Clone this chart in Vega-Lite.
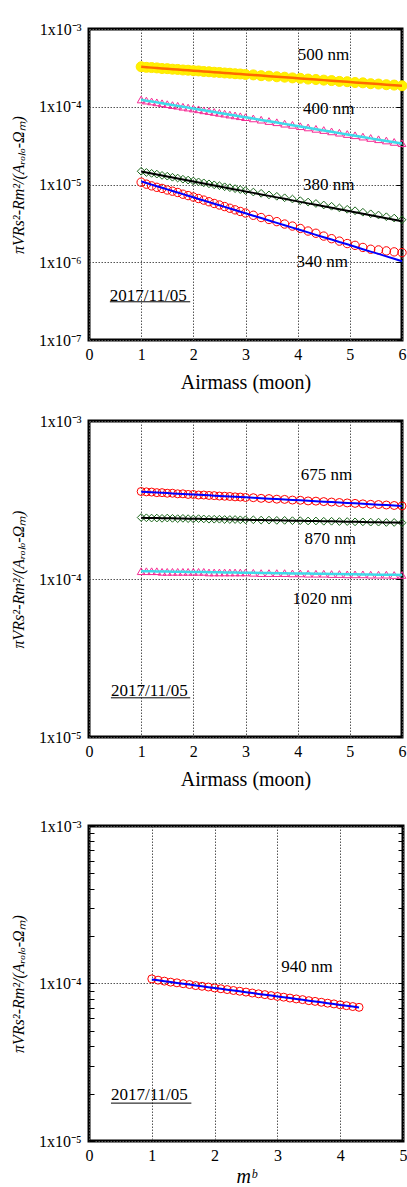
{
 "$schema":"https://vega.github.io/schema/vega-lite/v6.json",
 "padding":{"left":8,"top":19,"right":0,"bottom":0},
 "spacing":17,
 "config":{
   "view":{"stroke":"black","strokeWidth":3},
   "font":"Liberation Serif",
   "axis":{"labelFont":"Liberation Serif","titleFont":"Liberation Serif","labelColor":"black","titleColor":"black","titleFontWeight":"normal","labelFontSize":16,"titleFontSize":20,"domain":false,"grid":true,"gridColor":"#555","gridDash":[1.5,1.5],"gridWidth":1,"ticks":false},
   "text":{"font":"Liberation Serif"}
 },
 "datasets":{
  "ann":[
   {"p":1,"t":"500 nm","x":4.0,"y":4.6e-4},
   {"p":1,"t":"400 nm","x":4.1,"y":9.4e-5},
   {"p":1,"t":"380 nm","x":4.1,"y":1.0e-5},
   {"p":1,"t":"340 nm","x":3.98,"y":1.0e-6},
   {"p":1,"t":"2017/11/05","x":0.4,"y":3.66e-7},
   {"p":2,"t":"675 nm","x":4.06,"y":4.55e-4},
   {"p":2,"t":"870 nm","x":4.13,"y":1.8e-4},
   {"p":2,"t":"1020 nm","x":3.9,"y":7.46e-5},
   {"p":2,"t":"2017/11/05","x":0.42,"y":1.95e-5},
   {"p":3,"t":"940 nm","x":3.06,"y":1.28e-4},
   {"p":3,"t":"2017/11/05","x":0.35,"y":1.95e-5}
  ],
  "ul":[
   {"p":1,"x":0.4,"x2":1.94,"y":3.1e-7},
   {"p":2,"x":0.42,"x2":1.94,"y":1.77e-5},
   {"p":3,"x":0.35,"x2":1.63,"y":1.74e-5}
  ],
  "d":[
{"p":1,"s":"500","x":1,"o":3.27e-4,"f":3.26e-4},
{"p":1,"s":"500","x":1.1,"o":3.21e-4,"f":3.222e-4},
{"p":1,"s":"500","x":1.2,"o":3.19e-4,"f":3.186e-4},
{"p":1,"s":"500","x":1.3,"o":3.16e-4,"f":3.15e-4},
{"p":1,"s":"500","x":1.4,"o":3.10e-4,"f":3.115e-4},
{"p":1,"s":"500","x":1.5,"o":3.09e-4,"f":3.08e-4},
{"p":1,"s":"500","x":1.6,"o":3.04e-4,"f":3.046e-4},
{"p":1,"s":"500","x":1.7,"o":3.02e-4,"f":3.012e-4},
{"p":1,"s":"500","x":1.8,"o":2.97e-4,"f":2.978e-4},
{"p":1,"s":"500","x":1.9,"o":2.95e-4,"f":2.945e-4},
{"p":1,"s":"500","x":2,"o":2.91e-4,"f":2.912e-4},
{"p":1,"s":"500","x":2.1,"o":2.89e-4,"f":2.88e-4},
{"p":1,"s":"500","x":2.2,"o":2.84e-4,"f":2.848e-4},
{"p":1,"s":"500","x":2.3,"o":2.82e-4,"f":2.816e-4},
{"p":1,"s":"500","x":2.4,"o":2.78e-4,"f":2.785e-4},
{"p":1,"s":"500","x":2.5,"o":2.76e-4,"f":2.754e-4},
{"p":1,"s":"500","x":2.6,"o":2.72e-4,"f":2.723e-4},
{"p":1,"s":"500","x":2.7,"o":2.70e-4,"f":2.692e-4},
{"p":1,"s":"500","x":2.8,"o":2.66e-4,"f":2.662e-4},
{"p":1,"s":"500","x":2.9,"o":2.64e-4,"f":2.633e-4},
{"p":1,"s":"500","x":3,"o":2.60e-4,"f":2.603e-4},
{"p":1,"s":"500","x":3.15,"o":2.57e-4,"f":2.56e-4},
{"p":1,"s":"500","x":3.3,"o":2.51e-4,"f":2.517e-4},
{"p":1,"s":"500","x":3.45,"o":2.48e-4,"f":2.475e-4},
{"p":1,"s":"500","x":3.6,"o":2.43e-4,"f":2.434e-4},
{"p":1,"s":"500","x":3.75,"o":2.40e-4,"f":2.393e-4},
{"p":1,"s":"500","x":3.9,"o":2.35e-4,"f":2.354e-4},
{"p":1,"s":"500","x":4.05,"o":2.32e-4,"f":2.314e-4},
{"p":1,"s":"500","x":4.2,"o":2.27e-4,"f":2.276e-4},
{"p":1,"s":"500","x":4.35,"o":2.24e-4,"f":2.238e-4},
{"p":1,"s":"500","x":4.5,"o":2.20e-4,"f":2.2e-4},
{"p":1,"s":"500","x":4.65,"o":2.17e-4,"f":2.163e-4},
{"p":1,"s":"500","x":4.8,"o":2.12e-4,"f":2.127e-4},
{"p":1,"s":"500","x":4.95,"o":2.10e-4,"f":2.092e-4},
{"p":1,"s":"500","x":5.1,"o":2.05e-4,"f":2.057e-4},
{"p":1,"s":"500","x":5.25,"o":2.03e-4,"f":2.023e-4},
{"p":1,"s":"500","x":5.4,"o":1.98e-4,"f":1.989e-4},
{"p":1,"s":"500","x":5.55,"o":1.96e-4,"f":1.956e-4},
{"p":1,"s":"500","x":5.7,"o":1.92e-4,"f":1.923e-4},
{"p":1,"s":"500","x":5.85,"o":1.90e-4,"f":1.891e-4},
{"p":1,"s":"500","x":6,"o":1.86e-4,"f":1.86e-4},
{"p":1,"s":"400","x":1,"o":12.4e-5,"f":12.30e-5},
{"p":1,"s":"400","x":1.1,"o":12.0e-5,"f":11.98e-5},
{"p":1,"s":"400","x":1.2,"o":11.7e-5,"f":11.68e-5},
{"p":1,"s":"400","x":1.3,"o":11.4e-5,"f":11.38e-5},
{"p":1,"s":"400","x":1.4,"o":11.1e-5,"f":11.09e-5},
{"p":1,"s":"400","x":1.5,"o":10.8e-5,"f":10.80e-5},
{"p":1,"s":"400","x":1.6,"o":10.5e-5,"f":10.53e-5},
{"p":1,"s":"400","x":1.7,"o":10.3e-5,"f":10.26e-5},
{"p":1,"s":"400","x":1.8,"o":10.0e-5,"f":9.99e-5},
{"p":1,"s":"400","x":1.9,"o":9.76e-5,"f":9.74e-5},
{"p":1,"s":"400","x":2,"o":9.5e-5,"f":9.49e-5},
{"p":1,"s":"400","x":2.1,"o":9.27e-5,"f":9.24e-5},
{"p":1,"s":"400","x":2.2,"o":9.0e-5,"f":9.01e-5},
{"p":1,"s":"400","x":2.3,"o":8.8e-5,"f":8.78e-5},
{"p":1,"s":"400","x":2.4,"o":8.57e-5,"f":8.55e-5},
{"p":1,"s":"400","x":2.5,"o":8.35e-5,"f":8.33e-5},
{"p":1,"s":"400","x":2.6,"o":8.15e-5,"f":8.12e-5},
{"p":1,"s":"400","x":2.7,"o":7.93e-5,"f":7.91e-5},
{"p":1,"s":"400","x":2.8,"o":7.74e-5,"f":7.71e-5},
{"p":1,"s":"400","x":2.9,"o":7.55e-5,"f":7.51e-5},
{"p":1,"s":"400","x":3,"o":7.35e-5,"f":7.32e-5},
{"p":1,"s":"400","x":3.15,"o":7.08e-5,"f":7.04e-5},
{"p":1,"s":"400","x":3.3,"o":6.82e-5,"f":6.77e-5},
{"p":1,"s":"400","x":3.45,"o":6.55e-5,"f":6.51e-5},
{"p":1,"s":"400","x":3.6,"o":6.32e-5,"f":6.26e-5},
{"p":1,"s":"400","x":3.75,"o":6.06e-5,"f":6.02e-5},
{"p":1,"s":"400","x":3.9,"o":5.85e-5,"f":5.79e-5},
{"p":1,"s":"400","x":4.05,"o":5.62e-5,"f":5.57e-5},
{"p":1,"s":"400","x":4.2,"o":5.42e-5,"f":5.36e-5},
{"p":1,"s":"400","x":4.35,"o":5.2e-5,"f":5.15e-5},
{"p":1,"s":"400","x":4.5,"o":5.02e-5,"f":4.96e-5},
{"p":1,"s":"400","x":4.65,"o":4.82e-5,"f":4.77e-5},
{"p":1,"s":"400","x":4.8,"o":4.64e-5,"f":4.58e-5},
{"p":1,"s":"400","x":4.95,"o":4.46e-5,"f":4.41e-5},
{"p":1,"s":"400","x":5.1,"o":4.3e-5,"f":4.24e-5},
{"p":1,"s":"400","x":5.25,"o":4.13e-5,"f":4.08e-5},
{"p":1,"s":"400","x":5.4,"o":3.97e-5,"f":3.92e-5},
{"p":1,"s":"400","x":5.55,"o":3.82e-5,"f":3.77e-5},
{"p":1,"s":"400","x":5.7,"o":3.68e-5,"f":3.63e-5},
{"p":1,"s":"400","x":5.85,"o":3.53e-5,"f":3.49e-5},
{"p":1,"s":"400","x":6,"o":3.40e-5,"f":3.36e-5},
{"p":1,"s":"380","x":1,"o":14.8e-6,"f":14.70e-6},
{"p":1,"s":"380","x":1.1,"o":14.3e-6,"f":14.27e-6},
{"p":1,"s":"380","x":1.2,"o":13.9e-6,"f":13.86e-6},
{"p":1,"s":"380","x":1.3,"o":13.6e-6,"f":13.46e-6},
{"p":1,"s":"380","x":1.4,"o":13.1e-6,"f":13.07e-6},
{"p":1,"s":"380","x":1.5,"o":12.8e-6,"f":12.69e-6},
{"p":1,"s":"380","x":1.6,"o":12.4e-6,"f":12.32e-6},
{"p":1,"s":"380","x":1.7,"o":12.1e-6,"f":11.96e-6},
{"p":1,"s":"380","x":1.8,"o":11.7e-6,"f":11.61e-6},
{"p":1,"s":"380","x":1.9,"o":11.4e-6,"f":11.28e-6},
{"p":1,"s":"380","x":2,"o":11.1e-6,"f":10.95e-6},
{"p":1,"s":"380","x":2.1,"o":10.8e-6,"f":10.63e-6},
{"p":1,"s":"380","x":2.2,"o":10.5e-6,"f":10.32e-6},
{"p":1,"s":"380","x":2.3,"o":10.2e-6,"f":10.02e-6},
{"p":1,"s":"380","x":2.4,"o":9.9e-6,"f":9.73e-6},
{"p":1,"s":"380","x":2.5,"o":9.65e-6,"f":9.45e-6},
{"p":1,"s":"380","x":2.6,"o":9.35e-6,"f":9.17e-6},
{"p":1,"s":"380","x":2.7,"o":9.1e-6,"f":8.91e-6},
{"p":1,"s":"380","x":2.8,"o":8.85e-6,"f":8.65e-6},
{"p":1,"s":"380","x":2.9,"o":8.6e-6,"f":8.40e-6},
{"p":1,"s":"380","x":3,"o":8.35e-6,"f":8.15e-6},
{"p":1,"s":"380","x":3.15,"o":8.0e-6,"f":7.80e-6},
{"p":1,"s":"380","x":3.3,"o":7.7e-6,"f":7.46e-6},
{"p":1,"s":"380","x":3.45,"o":7.35e-6,"f":7.14e-6},
{"p":1,"s":"380","x":3.6,"o":7.05e-6,"f":6.83e-6},
{"p":1,"s":"380","x":3.75,"o":6.75e-6,"f":6.54e-6},
{"p":1,"s":"380","x":3.9,"o":6.5e-6,"f":6.25e-6},
{"p":1,"s":"380","x":4.05,"o":6.2e-6,"f":5.98e-6},
{"p":1,"s":"380","x":4.2,"o":5.95e-6,"f":5.72e-6},
{"p":1,"s":"380","x":4.35,"o":5.7e-6,"f":5.48e-6},
{"p":1,"s":"380","x":4.5,"o":5.45e-6,"f":5.24e-6},
{"p":1,"s":"380","x":4.65,"o":5.25e-6,"f":5.01e-6},
{"p":1,"s":"380","x":4.8,"o":5.0e-6,"f":4.80e-6},
{"p":1,"s":"380","x":4.95,"o":4.8e-6,"f":4.59e-6},
{"p":1,"s":"380","x":5.1,"o":4.6e-6,"f":4.39e-6},
{"p":1,"s":"380","x":5.25,"o":4.4e-6,"f":4.20e-6},
{"p":1,"s":"380","x":5.4,"o":4.2e-6,"f":4.02e-6},
{"p":1,"s":"380","x":5.55,"o":4.05e-6,"f":3.85e-6},
{"p":1,"s":"380","x":5.7,"o":3.85e-6,"f":3.68e-6},
{"p":1,"s":"380","x":5.85,"o":3.7e-6,"f":3.52e-6},
{"p":1,"s":"380","x":6,"o":3.52e-6,"f":3.37e-6},
{"p":1,"s":"340","x":1,"o":10.7e-6,"f":10.96e-6},
{"p":1,"s":"340","x":1.1,"o":10.1e-6,"f":10.46e-6},
{"p":1,"s":"340","x":1.2,"o":9.6e-6,"f":9.97e-6},
{"p":1,"s":"340","x":1.3,"o":9.2e-6,"f":9.51e-6},
{"p":1,"s":"340","x":1.4,"o":8.9e-6,"f":9.07e-6},
{"p":1,"s":"340","x":1.5,"o":8.5e-6,"f":8.66e-6},
{"p":1,"s":"340","x":1.6,"o":8.2e-6,"f":8.26e-6},
{"p":1,"s":"340","x":1.7,"o":7.9e-6,"f":7.88e-6},
{"p":1,"s":"340","x":1.8,"o":7.5e-6,"f":7.51e-6},
{"p":1,"s":"340","x":1.9,"o":7.2e-6,"f":7.17e-6},
{"p":1,"s":"340","x":2,"o":6.9e-6,"f":6.84e-6},
{"p":1,"s":"340","x":2.1,"o":6.6e-6,"f":6.52e-6},
{"p":1,"s":"340","x":2.2,"o":6.3e-6,"f":6.22e-6},
{"p":1,"s":"340","x":2.3,"o":6.0e-6,"f":5.93e-6},
{"p":1,"s":"340","x":2.4,"o":5.7e-6,"f":5.66e-6},
{"p":1,"s":"340","x":2.5,"o":5.45e-6,"f":5.40e-6},
{"p":1,"s":"340","x":2.6,"o":5.2e-6,"f":5.15e-6},
{"p":1,"s":"340","x":2.7,"o":4.95e-6,"f":4.91e-6},
{"p":1,"s":"340","x":2.8,"o":4.72e-6,"f":4.69e-6},
{"p":1,"s":"340","x":2.9,"o":4.5e-6,"f":4.47e-6},
{"p":1,"s":"340","x":3,"o":4.3e-6,"f":4.27e-6},
{"p":1,"s":"340","x":3.15,"o":4.02e-6,"f":3.97e-6},
{"p":1,"s":"340","x":3.3,"o":3.76e-6,"f":3.70e-6},
{"p":1,"s":"340","x":3.45,"o":3.55e-6,"f":3.45e-6},
{"p":1,"s":"340","x":3.6,"o":3.33e-6,"f":3.21e-6},
{"p":1,"s":"340","x":3.75,"o":3.10e-6,"f":2.99e-6},
{"p":1,"s":"340","x":3.9,"o":2.92e-6,"f":2.79e-6},
{"p":1,"s":"340","x":4.05,"o":2.72e-6,"f":2.60e-6},
{"p":1,"s":"340","x":4.2,"o":2.52e-6,"f":2.42e-6},
{"p":1,"s":"340","x":4.35,"o":2.36e-6,"f":2.25e-6},
{"p":1,"s":"340","x":4.5,"o":2.17e-6,"f":2.10e-6},
{"p":1,"s":"340","x":4.65,"o":2.01e-6,"f":1.96e-6},
{"p":1,"s":"340","x":4.8,"o":1.87e-6,"f":1.82e-6},
{"p":1,"s":"340","x":4.95,"o":1.74e-6,"f":1.70e-6},
{"p":1,"s":"340","x":5.1,"o":1.65e-6,"f":1.58e-6},
{"p":1,"s":"340","x":5.25,"o":1.55e-6,"f":1.47e-6},
{"p":1,"s":"340","x":5.4,"o":1.47e-6,"f":1.37e-6},
{"p":1,"s":"340","x":5.55,"o":1.44e-6,"f":1.28e-6},
{"p":1,"s":"340","x":5.7,"o":1.40e-6,"f":1.19e-6},
{"p":1,"s":"340","x":5.85,"o":1.36e-6,"f":1.11e-6},
{"p":1,"s":"340","x":6,"o":1.33e-6,"f":1.03e-6},
{"p":2,"s":"675","x":1,"o":3.58e-4,"f":3.570e-4},
{"p":2,"s":"675","x":1.1,"o":3.56e-4,"f":3.555e-4},
{"p":2,"s":"675","x":1.2,"o":3.55e-4,"f":3.541e-4},
{"p":2,"s":"675","x":1.3,"o":3.52e-4,"f":3.526e-4},
{"p":2,"s":"675","x":1.4,"o":3.52e-4,"f":3.511e-4},
{"p":2,"s":"675","x":1.5,"o":3.49e-4,"f":3.497e-4},
{"p":2,"s":"675","x":1.6,"o":3.49e-4,"f":3.482e-4},
{"p":2,"s":"675","x":1.7,"o":3.46e-4,"f":3.468e-4},
{"p":2,"s":"675","x":1.8,"o":3.46e-4,"f":3.454e-4},
{"p":2,"s":"675","x":1.9,"o":3.43e-4,"f":3.439e-4},
{"p":2,"s":"675","x":2,"o":3.43e-4,"f":3.425e-4},
{"p":2,"s":"675","x":2.1,"o":3.40e-4,"f":3.411e-4},
{"p":2,"s":"675","x":2.2,"o":3.40e-4,"f":3.397e-4},
{"p":2,"s":"675","x":2.3,"o":3.38e-4,"f":3.383e-4},
{"p":2,"s":"675","x":2.4,"o":3.37e-4,"f":3.369e-4},
{"p":2,"s":"675","x":2.5,"o":3.35e-4,"f":3.355e-4},
{"p":2,"s":"675","x":2.6,"o":3.34e-4,"f":3.341e-4},
{"p":2,"s":"675","x":2.7,"o":3.33e-4,"f":3.327e-4},
{"p":2,"s":"675","x":2.8,"o":3.31e-4,"f":3.313e-4},
{"p":2,"s":"675","x":2.9,"o":3.30e-4,"f":3.300e-4},
{"p":2,"s":"675","x":3,"o":3.28e-4,"f":3.286e-4},
{"p":2,"s":"675","x":3.15,"o":3.27e-4,"f":3.266e-4},
{"p":2,"s":"675","x":3.3,"o":3.24e-4,"f":3.245e-4},
{"p":2,"s":"675","x":3.45,"o":3.23e-4,"f":3.225e-4},
{"p":2,"s":"675","x":3.6,"o":3.20e-4,"f":3.205e-4},
{"p":2,"s":"675","x":3.75,"o":3.19e-4,"f":3.185e-4},
{"p":2,"s":"675","x":3.9,"o":3.16e-4,"f":3.166e-4},
{"p":2,"s":"675","x":4.05,"o":3.15e-4,"f":3.146e-4},
{"p":2,"s":"675","x":4.2,"o":3.12e-4,"f":3.127e-4},
{"p":2,"s":"675","x":4.35,"o":3.11e-4,"f":3.107e-4},
{"p":2,"s":"675","x":4.5,"o":3.09e-4,"f":3.088e-4},
{"p":2,"s":"675","x":4.65,"o":3.07e-4,"f":3.069e-4},
{"p":2,"s":"675","x":4.8,"o":3.05e-4,"f":3.050e-4},
{"p":2,"s":"675","x":4.95,"o":3.03e-4,"f":3.031e-4},
{"p":2,"s":"675","x":5.1,"o":3.01e-4,"f":3.012e-4},
{"p":2,"s":"675","x":5.25,"o":2.99e-4,"f":2.993e-4},
{"p":2,"s":"675","x":5.4,"o":2.97e-4,"f":2.975e-4},
{"p":2,"s":"675","x":5.55,"o":2.96e-4,"f":2.956e-4},
{"p":2,"s":"675","x":5.7,"o":2.94e-4,"f":2.938e-4},
{"p":2,"s":"675","x":5.85,"o":2.92e-4,"f":2.920e-4},
{"p":2,"s":"675","x":6,"o":2.90e-4,"f":2.902e-4},
{"p":2,"s":"870","x":1,"o":2.45e-4,"f":2.440e-4},
{"p":2,"s":"870","x":1.1,"o":2.44e-4,"f":2.437e-4},
{"p":2,"s":"870","x":1.2,"o":2.43e-4,"f":2.433e-4},
{"p":2,"s":"870","x":1.3,"o":2.43e-4,"f":2.430e-4},
{"p":2,"s":"870","x":1.4,"o":2.42e-4,"f":2.426e-4},
{"p":2,"s":"870","x":1.5,"o":2.43e-4,"f":2.423e-4},
{"p":2,"s":"870","x":1.6,"o":2.42e-4,"f":2.420e-4},
{"p":2,"s":"870","x":1.7,"o":2.41e-4,"f":2.416e-4},
{"p":2,"s":"870","x":1.8,"o":2.42e-4,"f":2.413e-4},
{"p":2,"s":"870","x":1.9,"o":2.41e-4,"f":2.409e-4},
{"p":2,"s":"870","x":2,"o":2.40e-4,"f":2.406e-4},
{"p":2,"s":"870","x":2.1,"o":2.41e-4,"f":2.403e-4},
{"p":2,"s":"870","x":2.2,"o":2.40e-4,"f":2.399e-4},
{"p":2,"s":"870","x":2.3,"o":2.39e-4,"f":2.396e-4},
{"p":2,"s":"870","x":2.4,"o":2.39e-4,"f":2.392e-4},
{"p":2,"s":"870","x":2.5,"o":2.39e-4,"f":2.389e-4},
{"p":2,"s":"870","x":2.6,"o":2.38e-4,"f":2.386e-4},
{"p":2,"s":"870","x":2.7,"o":2.38e-4,"f":2.382e-4},
{"p":2,"s":"870","x":2.8,"o":2.38e-4,"f":2.379e-4},
{"p":2,"s":"870","x":2.9,"o":2.37e-4,"f":2.375e-4},
{"p":2,"s":"870","x":3,"o":2.37e-4,"f":2.372e-4},
{"p":2,"s":"870","x":3.15,"o":2.37e-4,"f":2.367e-4},
{"p":2,"s":"870","x":3.3,"o":2.36e-4,"f":2.362e-4},
{"p":2,"s":"870","x":3.45,"o":2.36e-4,"f":2.357e-4},
{"p":2,"s":"870","x":3.6,"o":2.35e-4,"f":2.352e-4},
{"p":2,"s":"870","x":3.75,"o":2.35e-4,"f":2.347e-4},
{"p":2,"s":"870","x":3.9,"o":2.34e-4,"f":2.341e-4},
{"p":2,"s":"870","x":4.05,"o":2.34e-4,"f":2.336e-4},
{"p":2,"s":"870","x":4.2,"o":2.33e-4,"f":2.331e-4},
{"p":2,"s":"870","x":4.35,"o":2.33e-4,"f":2.326e-4},
{"p":2,"s":"870","x":4.5,"o":2.32e-4,"f":2.321e-4},
{"p":2,"s":"870","x":4.65,"o":2.32e-4,"f":2.316e-4},
{"p":2,"s":"870","x":4.8,"o":2.31e-4,"f":2.311e-4},
{"p":2,"s":"870","x":4.95,"o":2.31e-4,"f":2.306e-4},
{"p":2,"s":"870","x":5.1,"o":2.30e-4,"f":2.301e-4},
{"p":2,"s":"870","x":5.25,"o":2.30e-4,"f":2.296e-4},
{"p":2,"s":"870","x":5.4,"o":2.29e-4,"f":2.290e-4},
{"p":2,"s":"870","x":5.55,"o":2.29e-4,"f":2.285e-4},
{"p":2,"s":"870","x":5.7,"o":2.28e-4,"f":2.280e-4},
{"p":2,"s":"870","x":5.85,"o":2.28e-4,"f":2.275e-4},
{"p":2,"s":"870","x":6,"o":2.27e-4,"f":2.270e-4},
{"p":2,"s":"1020","x":1,"o":1.12e-4,"f":1.120e-4},
{"p":2,"s":"1020","x":1.1,"o":1.12e-4,"f":1.119e-4},
{"p":2,"s":"1020","x":1.2,"o":1.12e-4,"f":1.118e-4},
{"p":2,"s":"1020","x":1.3,"o":1.12e-4,"f":1.116e-4},
{"p":2,"s":"1020","x":1.4,"o":1.11e-4,"f":1.115e-4},
{"p":2,"s":"1020","x":1.5,"o":1.11e-4,"f":1.114e-4},
{"p":2,"s":"1020","x":1.6,"o":1.11e-4,"f":1.113e-4},
{"p":2,"s":"1020","x":1.7,"o":1.11e-4,"f":1.112e-4},
{"p":2,"s":"1020","x":1.8,"o":1.11e-4,"f":1.110e-4},
{"p":2,"s":"1020","x":1.9,"o":1.11e-4,"f":1.109e-4},
{"p":2,"s":"1020","x":2,"o":1.11e-4,"f":1.108e-4},
{"p":2,"s":"1020","x":2.1,"o":1.11e-4,"f":1.107e-4},
{"p":2,"s":"1020","x":2.2,"o":1.11e-4,"f":1.106e-4},
{"p":2,"s":"1020","x":2.3,"o":1.10e-4,"f":1.104e-4},
{"p":2,"s":"1020","x":2.4,"o":1.10e-4,"f":1.103e-4},
{"p":2,"s":"1020","x":2.5,"o":1.10e-4,"f":1.102e-4},
{"p":2,"s":"1020","x":2.6,"o":1.10e-4,"f":1.101e-4},
{"p":2,"s":"1020","x":2.7,"o":1.10e-4,"f":1.100e-4},
{"p":2,"s":"1020","x":2.8,"o":1.10e-4,"f":1.098e-4},
{"p":2,"s":"1020","x":2.9,"o":1.10e-4,"f":1.097e-4},
{"p":2,"s":"1020","x":3,"o":1.10e-4,"f":1.096e-4},
{"p":2,"s":"1020","x":3.15,"o":1.095e-4,"f":1.094e-4},
{"p":2,"s":"1020","x":3.3,"o":1.09e-4,"f":1.092e-4},
{"p":2,"s":"1020","x":3.45,"o":1.09e-4,"f":1.091e-4},
{"p":2,"s":"1020","x":3.6,"o":1.09e-4,"f":1.089e-4},
{"p":2,"s":"1020","x":3.75,"o":1.09e-4,"f":1.087e-4},
{"p":2,"s":"1020","x":3.9,"o":1.085e-4,"f":1.085e-4},
{"p":2,"s":"1020","x":4.05,"o":1.085e-4,"f":1.083e-4},
{"p":2,"s":"1020","x":4.2,"o":1.08e-4,"f":1.082e-4},
{"p":2,"s":"1020","x":4.35,"o":1.08e-4,"f":1.080e-4},
{"p":2,"s":"1020","x":4.5,"o":1.08e-4,"f":1.078e-4},
{"p":2,"s":"1020","x":4.65,"o":1.075e-4,"f":1.076e-4},
{"p":2,"s":"1020","x":4.8,"o":1.075e-4,"f":1.074e-4},
{"p":2,"s":"1020","x":4.95,"o":1.07e-4,"f":1.073e-4},
{"p":2,"s":"1020","x":5.1,"o":1.07e-4,"f":1.071e-4},
{"p":2,"s":"1020","x":5.25,"o":1.07e-4,"f":1.069e-4},
{"p":2,"s":"1020","x":5.4,"o":1.065e-4,"f":1.067e-4},
{"p":2,"s":"1020","x":5.55,"o":1.065e-4,"f":1.065e-4},
{"p":2,"s":"1020","x":5.7,"o":1.065e-4,"f":1.064e-4},
{"p":2,"s":"1020","x":5.85,"o":1.06e-4,"f":1.062e-4},
{"p":2,"s":"1020","x":6,"o":1.06e-4,"f":1.060e-4},
{"p":3,"s":"940","x":1,"o":10.7e-5,"f":10.60e-5},
{"p":3,"s":"940","x":1.1,"o":10.5e-5,"f":10.47e-5},
{"p":3,"s":"940","x":1.2,"o":10.35e-5,"f":10.34e-5},
{"p":3,"s":"940","x":1.3,"o":10.2e-5,"f":10.21e-5},
{"p":3,"s":"940","x":1.4,"o":10.1e-5,"f":10.09e-5},
{"p":3,"s":"940","x":1.5,"o":9.97e-5,"f":9.96e-5},
{"p":3,"s":"940","x":1.6,"o":9.85e-5,"f":9.84e-5},
{"p":3,"s":"940","x":1.7,"o":9.7e-5,"f":9.72e-5},
{"p":3,"s":"940","x":1.8,"o":9.6e-5,"f":9.60e-5},
{"p":3,"s":"940","x":1.9,"o":9.5e-5,"f":9.48e-5},
{"p":3,"s":"940","x":2,"o":9.37e-5,"f":9.37e-5},
{"p":3,"s":"940","x":2.1,"o":9.26e-5,"f":9.25e-5},
{"p":3,"s":"940","x":2.2,"o":9.15e-5,"f":9.14e-5},
{"p":3,"s":"940","x":2.3,"o":9.03e-5,"f":9.03e-5},
{"p":3,"s":"940","x":2.4,"o":8.93e-5,"f":8.92e-5},
{"p":3,"s":"940","x":2.5,"o":8.82e-5,"f":8.81e-5},
{"p":3,"s":"940","x":2.6,"o":8.7e-5,"f":8.70e-5},
{"p":3,"s":"940","x":2.7,"o":8.6e-5,"f":8.59e-5},
{"p":3,"s":"940","x":2.8,"o":8.5e-5,"f":8.48e-5},
{"p":3,"s":"940","x":2.9,"o":8.38e-5,"f":8.38e-5},
{"p":3,"s":"940","x":3,"o":8.28e-5,"f":8.28e-5},
{"p":3,"s":"940","x":3.1,"o":8.19e-5,"f":8.18e-5},
{"p":3,"s":"940","x":3.2,"o":8.08e-5,"f":8.08e-5},
{"p":3,"s":"940","x":3.3,"o":7.98e-5,"f":7.98e-5},
{"p":3,"s":"940","x":3.4,"o":7.9e-5,"f":7.88e-5},
{"p":3,"s":"940","x":3.5,"o":7.78e-5,"f":7.78e-5},
{"p":3,"s":"940","x":3.6,"o":7.7e-5,"f":7.69e-5},
{"p":3,"s":"940","x":3.7,"o":7.6e-5,"f":7.59e-5},
{"p":3,"s":"940","x":3.8,"o":7.5e-5,"f":7.50e-5},
{"p":3,"s":"940","x":3.9,"o":7.42e-5,"f":7.41e-5},
{"p":3,"s":"940","x":4,"o":7.32e-5,"f":7.31e-5},
{"p":3,"s":"940","x":4.1,"o":7.23e-5,"f":7.22e-5},
{"p":3,"s":"940","x":4.2,"o":7.14e-5,"f":7.14e-5},
{"p":3,"s":"940","x":4.3,"o":7.06e-5,"f":7.05e-5}
  ]
 },
 "vconcat":[
  {
   "width":313,"height":311,
   "layer":[
    {"layer":[
     {"data":{"name":"d"},"transform":[{"filter":"datum.p==1 && datum.s=='500'"}],
      "mark":{"type":"point","shape":"circle","filled":true,"fill":"#FFF200","stroke":"#FFE800","strokeWidth":1,"size":100,"opacity":1},
      "encoding":{
       "x":{"field":"x","type":"quantitative","scale":{"domain":[0,6],"nice":false,"zero":false},"axis":{"values":[0,1,2,3,4,5,6],"title":"Airmass (moon)","labelPadding":6,"titlePadding":10,"labelFlush":false}},
       "y":{"field":"o","type":"quantitative","scale":{"type":"log","domain":[1e-7,1e-3],"nice":false},"title":"πVRs²-Rm²/(Aᵣₒₗₒ-Ωₘ)","axis":{"values":[1e-7,1e-6,1e-5,1e-4,1e-3],"labelExpr":"'1x10' + ['⁰','⁻¹','⁻²','⁻³','⁻⁴','⁻⁵','⁻⁶','⁻⁷'][-round(log(datum.value)/LN10)]","labelPadding":8,"titlePadding":12,"titleFontSize":16,"titleFontStyle":"italic","labelOverlap":false}}}},
     {"data":{"name":"d"},"transform":[{"filter":"datum.p==1 && datum.s=='400'"}],
      "mark":{"type":"point","shape":"triangle-up","filled":false,"stroke":"#F52A94","strokeWidth":1,"size":60,"opacity":1},
      "encoding":{"x":{"field":"x","type":"quantitative","scale":{"domain":[0,6],"nice":false,"zero":false}},"y":{"field":"o","type":"quantitative","title":"πVRs²-Rm²/(Aᵣₒₗₒ-Ωₘ)"}}},
     {"data":{"name":"d"},"transform":[{"filter":"datum.p==1 && datum.s=='380'"}],
      "mark":{"type":"point","shape":"diamond","filled":false,"stroke":"#1A661A","strokeWidth":1,"size":60,"opacity":1},
      "encoding":{"x":{"field":"x","type":"quantitative","scale":{"domain":[0,6],"nice":false,"zero":false}},"y":{"field":"o","type":"quantitative","title":"πVRs²-Rm²/(Aᵣₒₗₒ-Ωₘ)"}}},
     {"data":{"name":"d"},"transform":[{"filter":"datum.p==1 && datum.s=='340'"}],
      "mark":{"type":"point","shape":"circle","filled":false,"stroke":"#FF0000","strokeWidth":1,"size":70,"opacity":1},
      "encoding":{"x":{"field":"x","type":"quantitative","scale":{"domain":[0,6],"nice":false,"zero":false}},"y":{"field":"o","type":"quantitative","title":"πVRs²-Rm²/(Aᵣₒₗₒ-Ωₘ)"}}},
     {"data":{"name":"ann"},"transform":[{"filter":"datum.p==1"}],
      "mark":{"type":"text","align":"left","baseline":"middle","fontSize":17,"font":"Liberation Serif","color":"black"},
      "encoding":{"x":{"field":"x","type":"quantitative","scale":{"domain":[0,6],"nice":false,"zero":false}},"y":{"field":"y","type":"quantitative","title":"πVRs²-Rm²/(Aᵣₒₗₒ-Ωₘ)"},"text":{"field":"t"}}},
     {"data":{"name":"ul"},"transform":[{"filter":"datum.p==1"}],
      "mark":{"type":"rule","color":"black","strokeWidth":1},
      "encoding":{"x":{"field":"x","type":"quantitative","scale":{"domain":[0,6],"nice":false,"zero":false}},"x2":{"field":"x2"},"y":{"field":"y","type":"quantitative","title":"πVRs²-Rm²/(Aᵣₒₗₒ-Ωₘ)"}}}
    ]},
    {"layer":[
     {"data":{"name":"d"},"transform":[{"filter":"datum.p==1 && datum.s=='500'"}],
      "mark":{"type":"line","color":"#FF6A00","strokeWidth":2.5},
      "encoding":{"x":{"field":"x","type":"quantitative","scale":{"domain":[0,6],"nice":false,"zero":false}},
       "y":{"field":"f","type":"quantitative","scale":{"type":"log","domain":[1e-7,1e-3],"nice":false},"axis":{"values":[1e-7,1e-6,1e-5,1e-4,1e-3],"labels":false,"grid":false,"ticks":true,"offset":-6,"tickSize":6,"tickColor":"black","tickWidth":1,"title":null}}}},
     {"data":{"name":"d"},"transform":[{"filter":"datum.p==1 && datum.s=='400'"}],
      "mark":{"type":"line","color":"#3EDBEA","strokeWidth":2.5},
      "encoding":{"x":{"field":"x","type":"quantitative","scale":{"domain":[0,6],"nice":false,"zero":false}},"y":{"field":"f","type":"quantitative"}}},
     {"data":{"name":"d"},"transform":[{"filter":"datum.p==1 && datum.s=='380'"}],
      "mark":{"type":"line","color":"black","strokeWidth":2},
      "encoding":{"x":{"field":"x","type":"quantitative","scale":{"domain":[0,6],"nice":false,"zero":false}},"y":{"field":"f","type":"quantitative"}}},
     {"data":{"name":"d"},"transform":[{"filter":"datum.p==1 && datum.s=='340'"}],
      "mark":{"type":"line","color":"#0000FF","strokeWidth":2},
      "encoding":{"x":{"field":"x","type":"quantitative","scale":{"domain":[0,6],"nice":false,"zero":false}},"y":{"field":"f","type":"quantitative"}}}
    ]}
   ],
   "resolve":{"axis":{"y":"independent"}}
  },
  {
   "width":313,"height":316,
   "layer":[
    {"layer":[
     {"data":{"name":"d"},"transform":[{"filter":"datum.p==2 && datum.s=='675'"}],
      "mark":{"type":"point","shape":"circle","filled":false,"stroke":"#FF0000","strokeWidth":1,"size":64,"opacity":1},
      "encoding":{
       "x":{"field":"x","type":"quantitative","scale":{"domain":[0,6],"nice":false,"zero":false},"axis":{"values":[0,1,2,3,4,5,6],"title":"Airmass (moon)","labelPadding":6,"titlePadding":10,"labelFlush":false}},
       "y":{"field":"o","type":"quantitative","scale":{"type":"log","domain":[1e-5,1e-3],"nice":false},"title":"πVRs²-Rm²/(Aᵣₒₗₒ-Ωₘ)","axis":{"values":[1e-5,1e-4,1e-3],"labelExpr":"'1x10' + ['⁰','⁻¹','⁻²','⁻³','⁻⁴','⁻⁵','⁻⁶','⁻⁷'][-round(log(datum.value)/LN10)]","labelPadding":8,"titlePadding":12,"titleFontSize":16,"titleFontStyle":"italic","labelOverlap":false}}}},
     {"data":{"name":"d"},"transform":[{"filter":"datum.p==2 && datum.s=='870'"}],
      "mark":{"type":"point","shape":"diamond","filled":false,"stroke":"#1A661A","strokeWidth":1,"size":60,"opacity":1},
      "encoding":{"x":{"field":"x","type":"quantitative","scale":{"domain":[0,6],"nice":false,"zero":false}},"y":{"field":"o","type":"quantitative","title":"πVRs²-Rm²/(Aᵣₒₗₒ-Ωₘ)"}}},
     {"data":{"name":"d"},"transform":[{"filter":"datum.p==2 && datum.s=='1020'"}],
      "mark":{"type":"point","shape":"triangle-up","filled":false,"stroke":"#F52A94","strokeWidth":1,"size":60,"opacity":1},
      "encoding":{"x":{"field":"x","type":"quantitative","scale":{"domain":[0,6],"nice":false,"zero":false}},"y":{"field":"o","type":"quantitative","title":"πVRs²-Rm²/(Aᵣₒₗₒ-Ωₘ)"}}},
     {"data":{"name":"ann"},"transform":[{"filter":"datum.p==2"}],
      "mark":{"type":"text","align":"left","baseline":"middle","fontSize":17,"font":"Liberation Serif","color":"black"},
      "encoding":{"x":{"field":"x","type":"quantitative","scale":{"domain":[0,6],"nice":false,"zero":false}},"y":{"field":"y","type":"quantitative","title":"πVRs²-Rm²/(Aᵣₒₗₒ-Ωₘ)"},"text":{"field":"t"}}},
     {"data":{"name":"ul"},"transform":[{"filter":"datum.p==2"}],
      "mark":{"type":"rule","color":"black","strokeWidth":1},
      "encoding":{"x":{"field":"x","type":"quantitative","scale":{"domain":[0,6],"nice":false,"zero":false}},"x2":{"field":"x2"},"y":{"field":"y","type":"quantitative","title":"πVRs²-Rm²/(Aᵣₒₗₒ-Ωₘ)"}}}
    ]},
    {"layer":[
     {"data":{"name":"d"},"transform":[{"filter":"datum.p==2 && datum.s=='675'"}],
      "mark":{"type":"line","color":"#0000FF","strokeWidth":2},
      "encoding":{"x":{"field":"x","type":"quantitative","scale":{"domain":[0,6],"nice":false,"zero":false}},
       "y":{"field":"f","type":"quantitative","scale":{"type":"log","domain":[1e-5,1e-3],"nice":false},"axis":{"values":[1e-5,1e-4,1e-3],"labels":false,"grid":false,"ticks":true,"offset":-6,"tickSize":6,"tickColor":"black","tickWidth":1,"title":null}}}},
     {"data":{"name":"d"},"transform":[{"filter":"datum.p==2 && datum.s=='870'"}],
      "mark":{"type":"line","color":"black","strokeWidth":2},
      "encoding":{"x":{"field":"x","type":"quantitative","scale":{"domain":[0,6],"nice":false,"zero":false}},"y":{"field":"f","type":"quantitative"}}},
     {"data":{"name":"d"},"transform":[{"filter":"datum.p==2 && datum.s=='1020'"}],
      "mark":{"type":"line","color":"#3EDBEA","strokeWidth":2.5},
      "encoding":{"x":{"field":"x","type":"quantitative","scale":{"domain":[0,6],"nice":false,"zero":false}},"y":{"field":"f","type":"quantitative"}}}
    ]}
   ],
   "resolve":{"axis":{"y":"independent"}}
  },
  {
   "width":314,"height":315,
   "title":{"text":".","fontSize":6,"offset":2,"color":"transparent"},
   "layer":[
    {"layer":[
     {"data":{"name":"d"},"transform":[{"filter":"datum.p==3"}],
      "mark":{"type":"point","shape":"circle","filled":false,"stroke":"#FF0000","strokeWidth":1,"size":64,"opacity":1},
      "encoding":{
       "x":{"field":"x","type":"quantitative","scale":{"domain":[0,5],"nice":false,"zero":false},"axis":{"values":[0,1,2,3,4,5],"format":"d","title":"mᵇ","titleFontStyle":"italic","labelPadding":6,"titlePadding":3,"labelFlush":false}},
       "y":{"field":"o","type":"quantitative","scale":{"type":"log","domain":[1e-5,1e-3],"nice":false},"title":"πVRs²-Rm²/(Aᵣₒₗₒ-Ωₘ)","axis":{"values":[1e-5,2e-5,3e-5,4e-5,5e-5,6e-5,7e-5,8e-5,9e-5,1e-4,2e-4,3e-4,4e-4,5e-4,6e-4,7e-4,8e-4,9e-4,1e-3],"labelExpr":"abs(log(datum.value)/LN10 - round(log(datum.value)/LN10)) < 0.01 ? '1x10' + ['⁰','⁻¹','⁻²','⁻³','⁻⁴','⁻⁵','⁻⁶','⁻⁷'][-round(log(datum.value)/LN10)] : ''","gridOpacity":{"condition":{"test":"abs(log(datum.value)/LN10 - round(log(datum.value)/LN10)) < 0.01","value":1},"value":0},"ticks":true,"offset":-5,"tickSize":5,"tickColor":"black","tickWidth":1,"labelPadding":8,"titlePadding":12,"titleFontSize":16,"titleFontStyle":"italic","labelOverlap":false}}}},
     {"data":{"name":"ann"},"transform":[{"filter":"datum.p==3"}],
      "mark":{"type":"text","align":"left","baseline":"middle","fontSize":17,"font":"Liberation Serif","color":"black"},
      "encoding":{"x":{"field":"x","type":"quantitative","scale":{"domain":[0,5],"nice":false,"zero":false}},"y":{"field":"y","type":"quantitative","title":"πVRs²-Rm²/(Aᵣₒₗₒ-Ωₘ)"},"text":{"field":"t"}}},
     {"data":{"name":"ul"},"transform":[{"filter":"datum.p==3"}],
      "mark":{"type":"rule","color":"black","strokeWidth":1},
      "encoding":{"x":{"field":"x","type":"quantitative","scale":{"domain":[0,5],"nice":false,"zero":false}},"x2":{"field":"x2"},"y":{"field":"y","type":"quantitative","title":"πVRs²-Rm²/(Aᵣₒₗₒ-Ωₘ)"}}}
    ]},
    {"layer":[
     {"data":{"name":"d"},"transform":[{"filter":"datum.p==3"}],
      "mark":{"type":"line","color":"#0000FF","strokeWidth":2},
      "encoding":{"x":{"field":"x","type":"quantitative","scale":{"domain":[0,5],"nice":false,"zero":false}},
       "y":{"field":"f","type":"quantitative","scale":{"type":"log","domain":[1e-5,1e-3],"nice":false},"axis":{"values":[1e-5,2e-5,3e-5,4e-5,5e-5,6e-5,7e-5,8e-5,9e-5,1e-4,2e-4,3e-4,4e-4,5e-4,6e-4,7e-4,8e-4,9e-4,1e-3],"labels":false,"grid":false,"ticks":true,"offset":-5,"tickSize":5,"tickColor":"black","tickWidth":1,"title":null}}}}
    ]}
   ],
   "resolve":{"axis":{"y":"independent"}}
  }
 ]
}
